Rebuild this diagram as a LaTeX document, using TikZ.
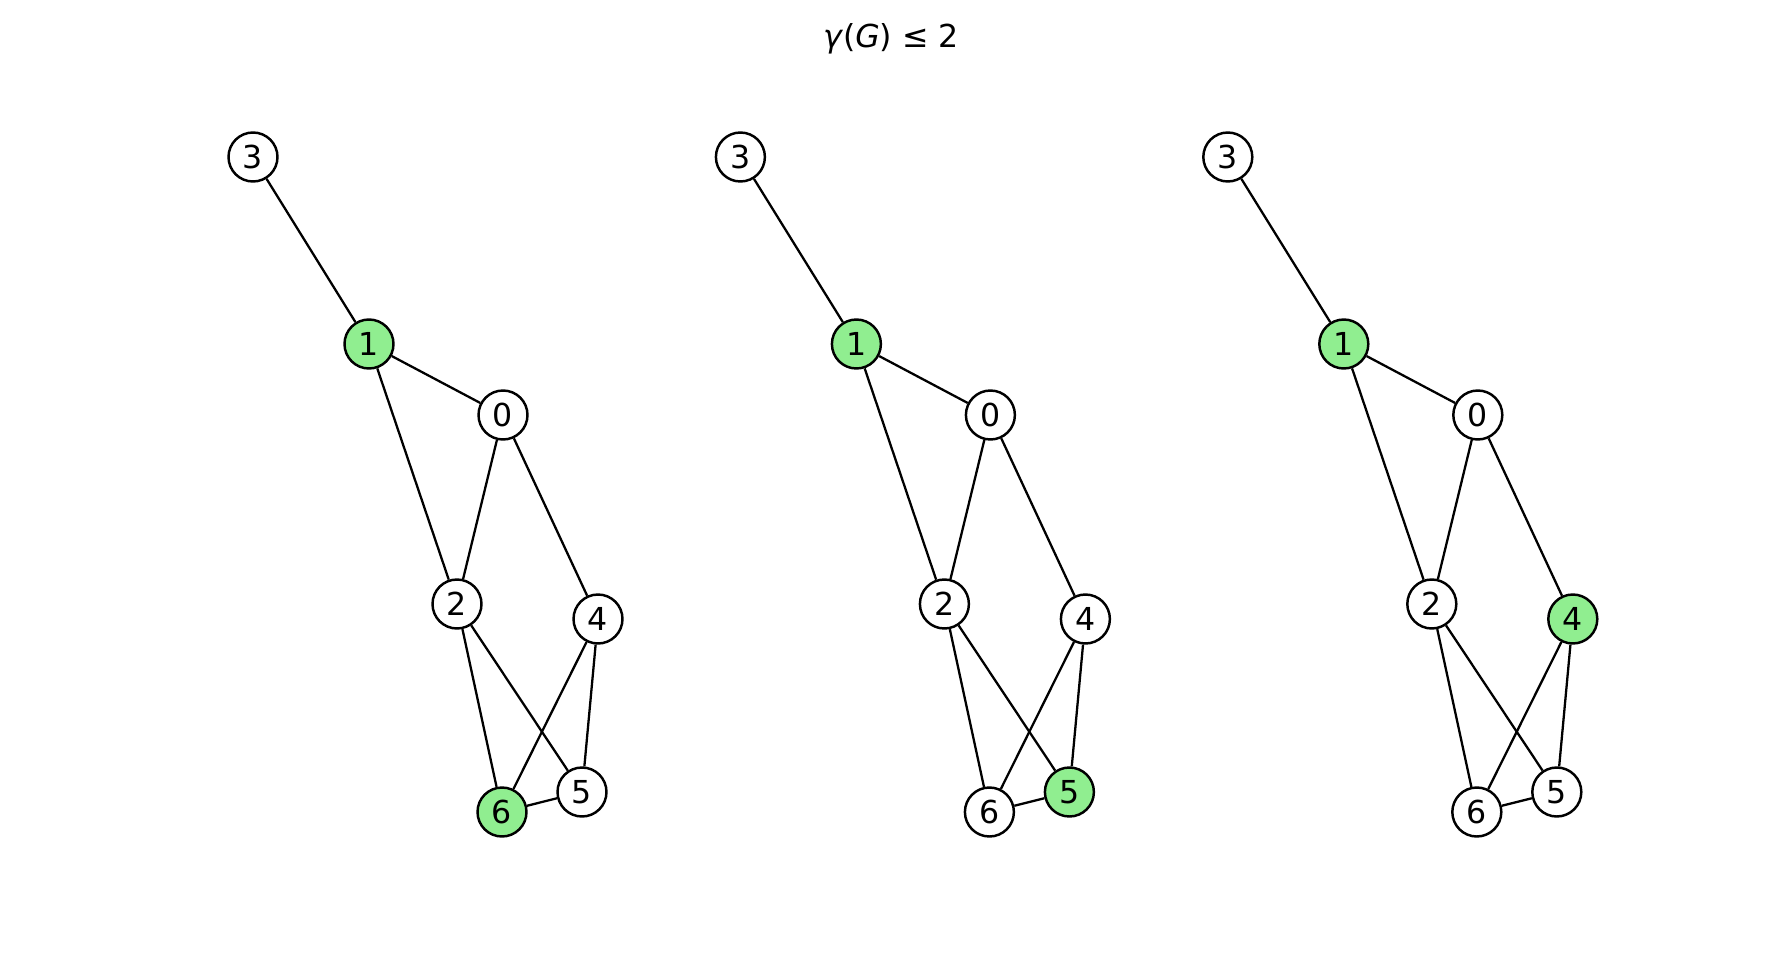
\documentclass[tikz,border=0pt]{standalone}
\usepackage{fontspec}
\setmainfont{DejaVu Sans}
\usetikzlibrary{positioning}

\definecolor{domgreen}{HTML}{90EE90}

\tikzset{
  vtx/.style={circle, draw=black, line width=1.4pt, fill=white, minimum size=0.98cm, inner sep=0pt, font=\fontsize{18}{18}\selectfont},
  domvtx/.style={vtx, fill=domgreen},
  edge/.style={line width=1.3pt, black}
}

\begin{document}
\begin{tikzpicture}[x=0.02cm, y=-0.02cm]
\useasboundingbox (0,0) rectangle (1782,960);

\node (title) at (891,39) {\fontsize{18}{18}\selectfont\textit{γ}(\textit{G}) ≤ 2};

\begin{scope}[xshift=0cm]
  \node[vtx] (a3) at (253,157) {3};
  \node[domvtx] (a1) at (369,344) {1};
  \node[vtx] (a0) at (503,415) {0};
  \node[vtx] (a2) at (457,604) {2};
  \node[vtx] (a4) at (598,619) {4};
  \node[vtx] (a5) at (582,792) {5};
  \node[domvtx] (a6) at (502,812) {6};
  \draw[edge] (a3) -- (a1);
  \draw[edge] (a1) -- (a0);
  \draw[edge] (a1) -- (a2);
  \draw[edge] (a0) -- (a2);
  \draw[edge] (a0) -- (a4);
  \draw[edge] (a2) -- (a6);
  \draw[edge] (a2) -- (a5);
  \draw[edge] (a4) -- (a6);
  \draw[edge] (a4) -- (a5);
  \draw[edge] (a6) -- (a5);
\end{scope}

\begin{scope}[xshift=9.75cm]
  \node[vtx] (b3) at (253,157) {3};
  \node[domvtx] (b1) at (369,344) {1};
  \node[vtx] (b0) at (503,415) {0};
  \node[vtx] (b2) at (457,604) {2};
  \node[vtx] (b4) at (598,619) {4};
  \node[domvtx] (b5) at (582,792) {5};
  \node[vtx] (b6) at (502,812) {6};
  \draw[edge] (b3) -- (b1);
  \draw[edge] (b1) -- (b0);
  \draw[edge] (b1) -- (b2);
  \draw[edge] (b0) -- (b2);
  \draw[edge] (b0) -- (b4);
  \draw[edge] (b2) -- (b6);
  \draw[edge] (b2) -- (b5);
  \draw[edge] (b4) -- (b6);
  \draw[edge] (b4) -- (b5);
  \draw[edge] (b6) -- (b5);
\end{scope}

\begin{scope}[xshift=19.5cm]
  \node[vtx] (c3) at (253,157) {3};
  \node[domvtx] (c1) at (369,344) {1};
  \node[vtx] (c0) at (503,415) {0};
  \node[vtx] (c2) at (457,604) {2};
  \node[domvtx] (c4) at (598,619) {4};
  \node[vtx] (c5) at (582,792) {5};
  \node[vtx] (c6) at (502,812) {6};
  \draw[edge] (c3) -- (c1);
  \draw[edge] (c1) -- (c0);
  \draw[edge] (c1) -- (c2);
  \draw[edge] (c0) -- (c2);
  \draw[edge] (c0) -- (c4);
  \draw[edge] (c2) -- (c6);
  \draw[edge] (c2) -- (c5);
  \draw[edge] (c4) -- (c6);
  \draw[edge] (c4) -- (c5);
  \draw[edge] (c6) -- (c5);
\end{scope}
\end{tikzpicture}
\end{document}
